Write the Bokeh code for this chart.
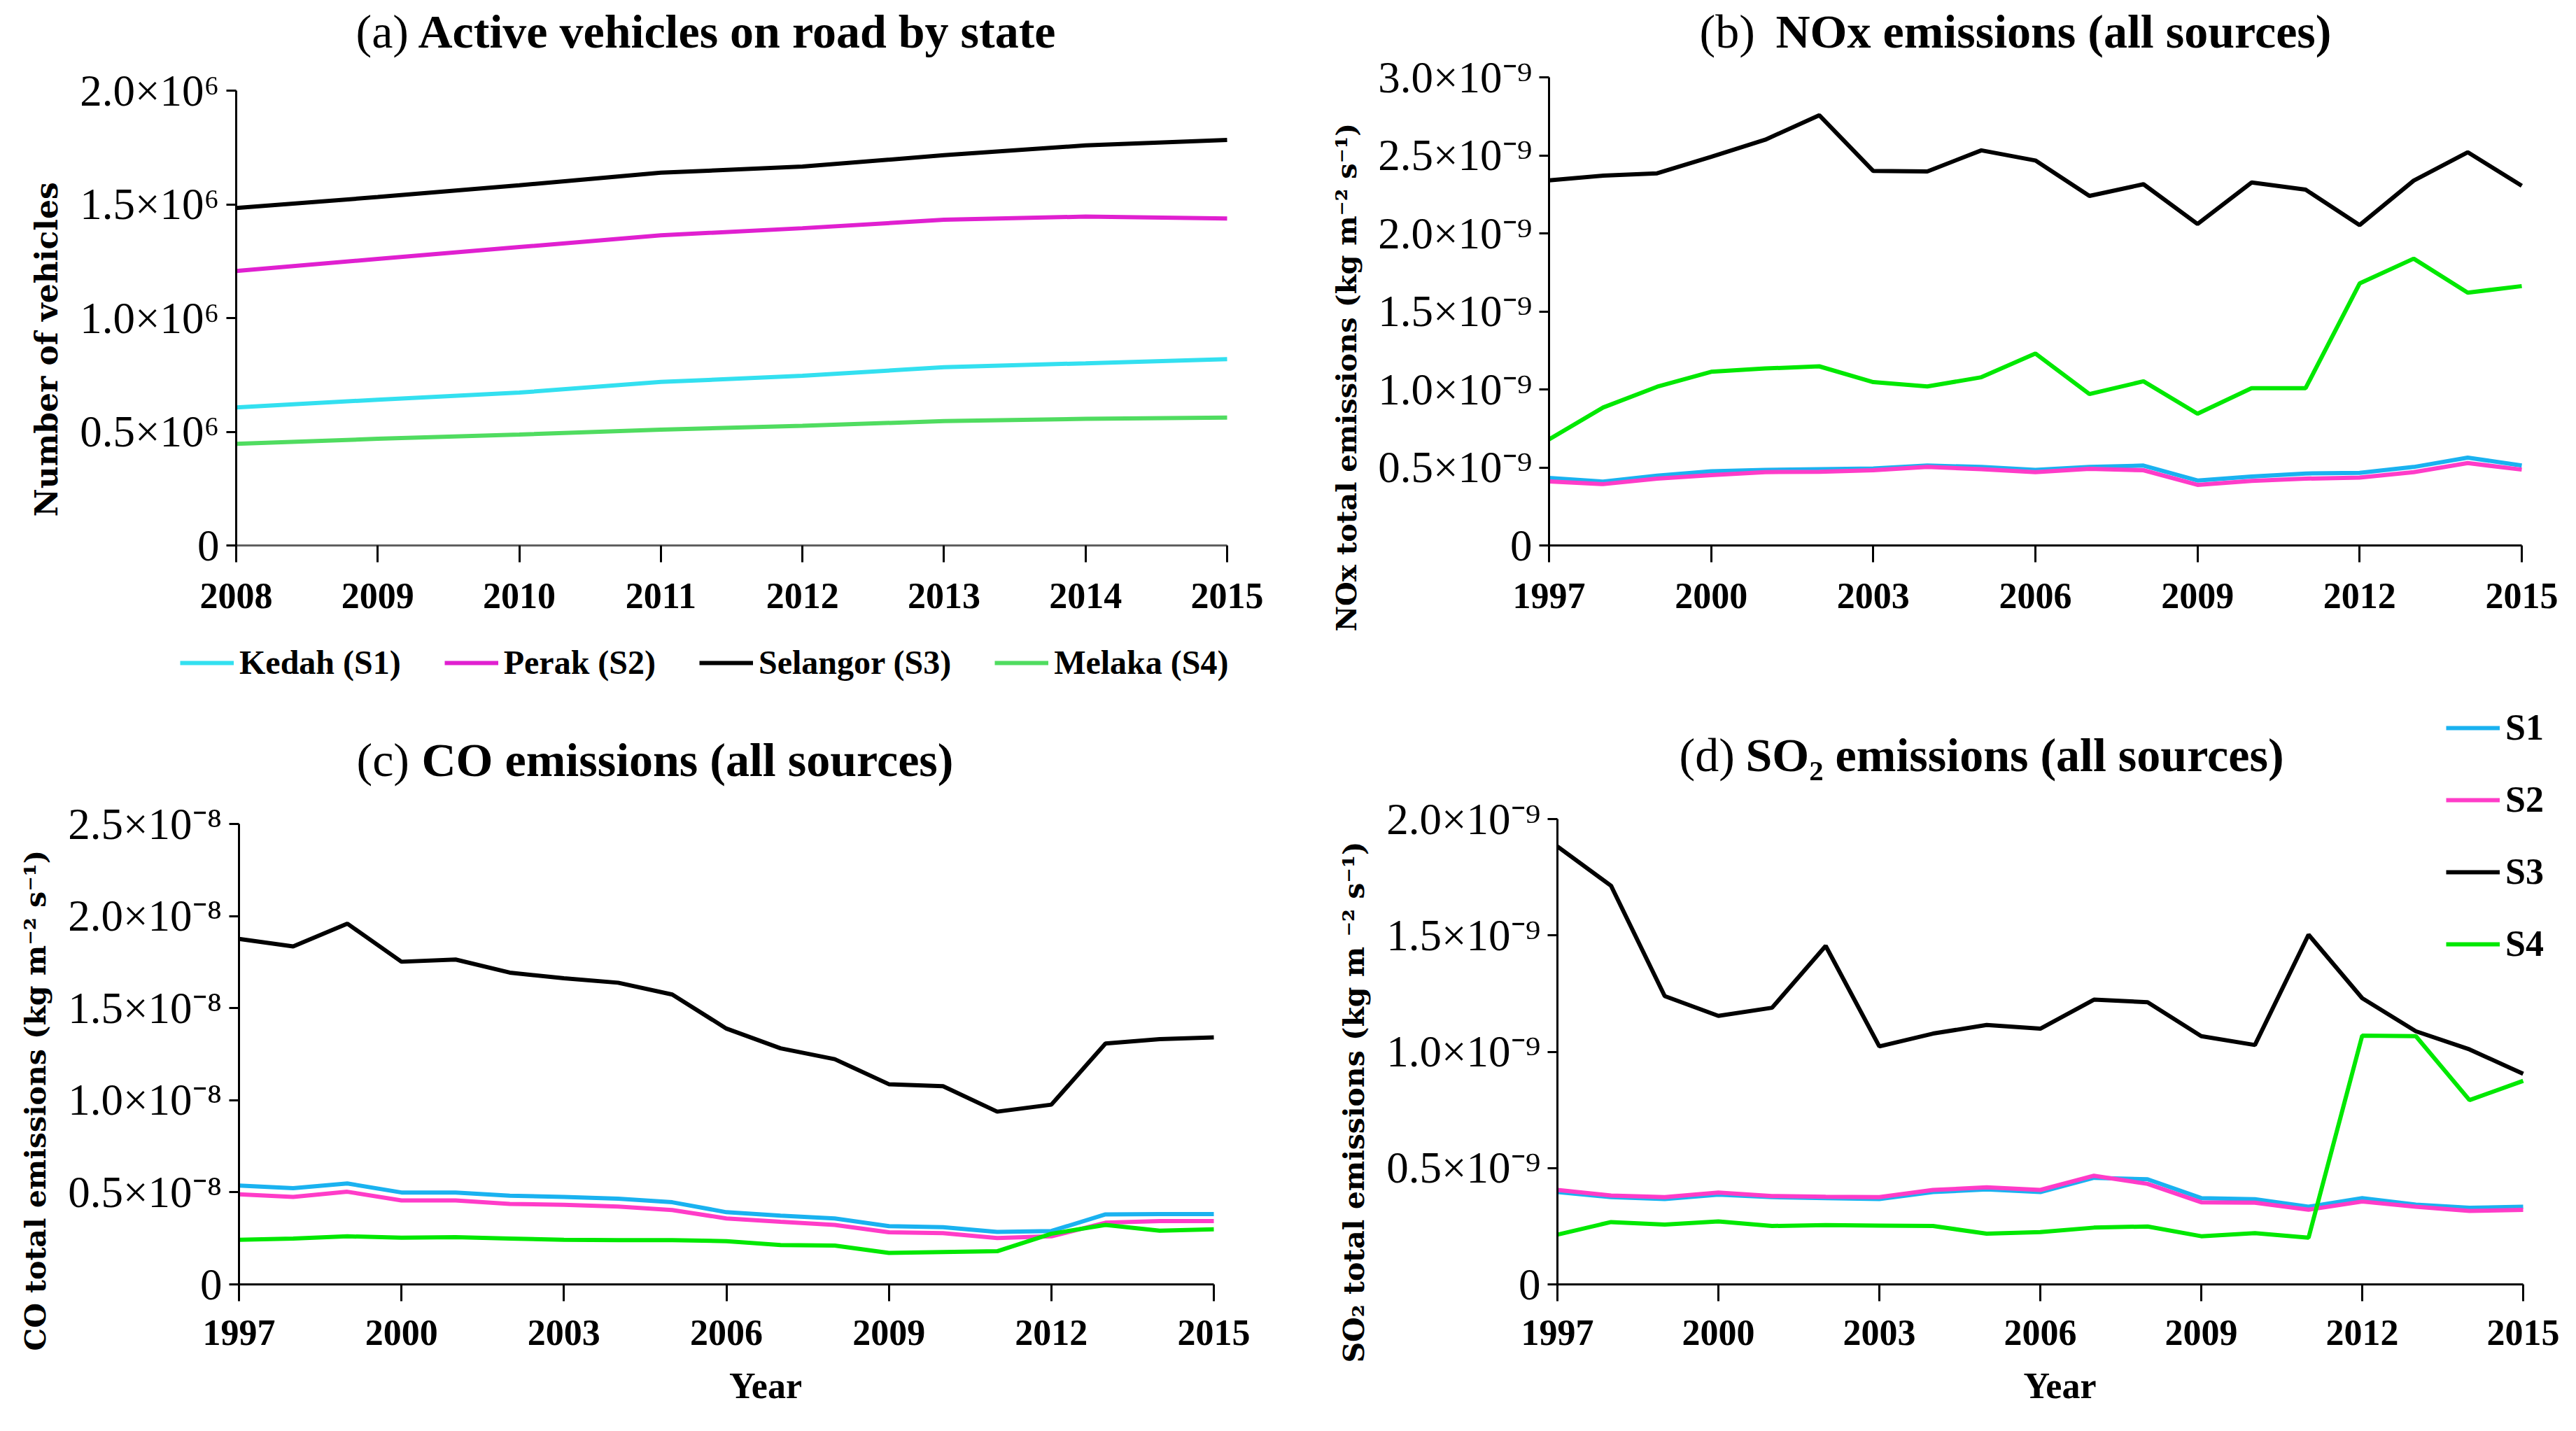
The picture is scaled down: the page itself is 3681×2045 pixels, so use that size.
import math
from bokeh.plotting import figure
from bokeh.layouts import column, row
from bokeh.models import (Range1d, FixedTicker, CustomJSTickFormatter, Label,
                          Legend, LegendItem, Title)
from bokeh.embed import file_html
from bokeh.resources import INLINE

# ---------------- data ----------------
years_a = [2008, 2009, 2010, 2011, 2012, 2013, 2014, 2015]
# vehicles, in units of 10^6
kedah = [0.607, 0.641, 0.672, 0.719, 0.746, 0.784, 0.801, 0.819]
perak = [1.207, 1.260, 1.312, 1.364, 1.395, 1.432, 1.446, 1.438]
selangor = [1.484, 1.532, 1.584, 1.639, 1.666, 1.716, 1.759, 1.783]
melaka = [0.447, 0.469, 0.488, 0.509, 0.526, 0.547, 0.557, 0.562]

years = list(range(1997, 2016))
# NOx, units of 10^-9 kg m-2 s-1
nox_s1 = [0.433, 0.409, 0.447, 0.475, 0.484, 0.489, 0.493, 0.512, 0.503, 0.484,
          0.503, 0.512, 0.416, 0.442, 0.461, 0.465, 0.503, 0.563, 0.512]
nox_s2 = [0.410, 0.393, 0.428, 0.451, 0.470, 0.472, 0.482, 0.503, 0.489, 0.470,
          0.491, 0.482, 0.388, 0.414, 0.428, 0.435, 0.470, 0.528, 0.486]
nox_s3 = [2.340, 2.370, 2.385, 2.490, 2.600, 2.757, 2.400, 2.397, 2.532, 2.467,
          2.240, 2.315, 2.060, 2.326, 2.280, 2.053, 2.338, 2.520, 2.305]
nox_s4 = [0.680, 0.884, 1.017, 1.113, 1.134, 1.148, 1.047, 1.019, 1.078, 1.230,
          0.970, 1.052, 0.844, 1.008, 1.008, 1.679, 1.838, 1.620, 1.662]
# CO, units of 10^-8 kg m-2 s-1
co_s1 = [0.537, 0.522, 0.548, 0.499, 0.499, 0.482, 0.475, 0.465, 0.446, 0.392,
         0.373, 0.358, 0.316, 0.311, 0.285, 0.290, 0.380, 0.382, 0.382]
co_s2 = [0.489, 0.475, 0.503, 0.456, 0.456, 0.437, 0.432, 0.423, 0.404, 0.358,
         0.340, 0.323, 0.283, 0.278, 0.252, 0.261, 0.335, 0.344, 0.344]
co_s3 = [1.876, 1.835, 1.959, 1.752, 1.764, 1.693, 1.662, 1.638, 1.574, 1.389,
         1.282, 1.223, 1.087, 1.076, 0.938, 0.976, 1.308, 1.332, 1.341]
co_s4 = [0.242, 0.249, 0.261, 0.254, 0.256, 0.249, 0.242, 0.240, 0.240, 0.235,
         0.214, 0.211, 0.171, 0.176, 0.180, 0.275, 0.323, 0.292, 0.299]
# SO2, units of 10^-9 kg m-2 s-1
so2_s1 = [0.397, 0.375, 0.367, 0.386, 0.375, 0.371, 0.367, 0.397, 0.408, 0.397,
          0.458, 0.452, 0.371, 0.366, 0.334, 0.371, 0.343, 0.329, 0.334]
so2_s2 = [0.406, 0.382, 0.375, 0.395, 0.380, 0.377, 0.375, 0.406, 0.417, 0.406,
          0.467, 0.432, 0.353, 0.351, 0.321, 0.356, 0.334, 0.316, 0.320]
so2_s3 = [1.882, 1.713, 1.239, 1.154, 1.189, 1.455, 1.023, 1.078, 1.115, 1.099,
          1.224, 1.213, 1.067, 1.029, 1.503, 1.230, 1.088, 1.010, 0.905]
so2_s4 = [0.214, 0.268, 0.257, 0.271, 0.251, 0.255, 0.253, 0.251, 0.218, 0.225,
          0.244, 0.249, 0.207, 0.220, 0.201, 1.069, 1.067, 0.792, 0.875]

names_a = ["Kedah (S1)", "Perak (S2)", "Selangor (S3)", "Melaka (S4)"]
names_s = ["S1", "S2", "S3", "S4"]
colors_a = ["#33E0F0", "#E020D0", "#000000", "#50DC60"]
colors_s = ["#1AB2F0", "#FF3CC8", "#000000", "#00E800"]
xticks_a = years_a
xticks_s = [1997, 2000, 2003, 2006, 2009, 2012, 2015]

SERIF = "Liberation Serif"
WIDE = "DejaVu Serif"
PAD = 4
LW = 6


def make_fig(fx, fy, fw, fh, axl, axr, axt, axb, xr, yr, xticks, yticks, suffix):
    """fx..fh: figure box on page; axl..axb: where the axes' ends sit on page."""
    x0, x1 = xr
    y0, y1 = yr
    frame_right = fx + fw - PAD
    frame_top = fy + PAD
    x_end = x0 + (x1 - x0) * (frame_right - axl) / (axr - axl)
    y_end = y0 + (y1 - y0) * (axb - frame_top) / (axb - axt)
    p = figure(width=fw, height=fh, output_backend="svg", toolbar_location=None,
               x_range=Range1d(x0, x_end), y_range=Range1d(y0, y_end),
               min_border_left=axl - fx, min_border_right=PAD,
               min_border_top=PAD, min_border_bottom=fy + fh - axb)
    p.outline_line_color = None
    p.xgrid.grid_line_color = None
    p.ygrid.grid_line_color = None
    p.xaxis.bounds = (x0, x1)
    p.yaxis.bounds = (y0, y1)
    p.xaxis.ticker = FixedTicker(ticks=xticks)
    p.yaxis.ticker = FixedTicker(ticks=yticks)
    p.yaxis.formatter = CustomJSTickFormatter(
        code="return tick == 0 ? '0' : tick.toFixed(1) + '×10%s';" % suffix)
    for ax in (p.xaxis, p.yaxis):
        ax.axis_line_color = "black"
        ax.axis_line_width = 3
        ax.major_tick_line_width = 3
        ax.major_tick_line_color = "black"
        ax.minor_tick_line_color = None
        ax.major_tick_in = 0
        ax.major_label_text_color = "black"
        ax.major_label_text_font = SERIF
    p.xaxis.major_tick_out = 24
    p.yaxis.major_tick_out = 14
    p.xaxis.major_label_text_font_size = "52px"
    p.xaxis.major_label_text_font_style = "bold"
    p.xaxis.major_label_standoff = 30
    p.yaxis.major_label_text_font_size = "63px"
    p.yaxis.major_label_standoff = 10
    p._geom = (fx, fy, fh, axl, axb)
    return p


def add_title(p, small, bold, px_small, px_bold, py):
    fx, fy, fh, axl, axb = p._geom
    for txt, px, style in ((small, px_small, "normal"), (bold, px_bold, "bold")):
        p.add_layout(Label(x=px - axl, y=axb - py, x_units="screen", y_units="screen",
                           text=txt, text_font=SERIF, text_font_size="68px",
                           text_font_style=style, text_color="black",
                           text_align="left", text_baseline="middle"))


def add_ylabel(p, text, py_bottom, size_px, standoff=40):
    """vertical side title; its start (lower end) sits at py_bottom on the page."""
    fx, fy, fh, axl, axb = p._geom
    t = Title(text=text, align="left", offset=axb - py_bottom,
              text_font=WIDE, text_font_size="%dpx" % size_px,
              text_font_style="bold", text_color="black", standoff=standoff)
    p.add_layout(t, "left")


TOP_AXB = 787
BOT_AXB = 1843

# ---- (a) ----
pa = make_fig(8, 8, 1850, 917, 345, 1761, 137, TOP_AXB, (2008, 2015), (0, 2.0),
              xticks_a, [0, 0.5, 1.0, 1.5, 2.0], "⁶")
pa.xaxis.axis_line_color = "#606060"
for ys, c in zip([kedah, perak, selangor, melaka], colors_a):
    pa.line(years_a, ys, line_color=c, line_width=LW)
add_title(pa, "(a)", "Active vehicles on road by state", 516, 605, 52)
add_ylabel(pa, "Number of vehicles", 746, 44)

# ---- (b) ----
pb = make_fig(1858, 8, 1815, 917, 2221, 3611, 118, TOP_AXB, (1997, 2015), (0, 3.0),
              xticks_s, [0, 0.5, 1.0, 1.5, 2.0, 2.5, 3.0], "⁻⁹")
for ys, c in zip([nox_s1, nox_s2, nox_s3, nox_s4], colors_s):
    pb.line(years, ys, line_color=c, line_width=LW)
add_title(pb, "(b)", "NOx emissions (all sources)", 2436, 2545, 52)
add_ylabel(pb, "NOx  total emissions (kg m⁻² s⁻¹)", 910, 40)

# ---- legend strip for (a) ----
pl = figure(width=3665, height=65, output_backend="svg", toolbar_location=None,
            x_range=Range1d(0, 1), y_range=Range1d(0, 1),
            x_axis_location=None, y_axis_location=None,
            min_border_left=0, min_border_right=0, min_border_top=0, min_border_bottom=0)
pl.outline_line_color = None
pl.xgrid.grid_line_color = None
pl.ygrid.grid_line_color = None
# legend keys only: one undefined (NaN) point each, nothing is drawn in the strip
keys = [pl.line(x=[float("nan")], y=[float("nan")], line_color=c, line_width=LW)
        for c in colors_a]
leg_a = Legend(items=[LegendItem(label=n, renderers=[r]) for n, r in zip(names_a, keys)],
               orientation="horizontal", location=(265 - 8, 990 - 982),
               label_text_font=SERIF, label_text_font_size="48px",
               label_text_font_style="bold", label_text_color="black",
               glyph_width=77, glyph_height=50, label_height=50, label_standoff=8,
               spacing=62, padding=0, margin=0, border_line_color=None,
               background_fill_alpha=0)
pl.add_layout(leg_a, "center")

# ---- (c) ----
pc = make_fig(8, 990, 1850, 1047, 349, 1742, 1185, BOT_AXB, (1997, 2015), (0, 2.5),
              xticks_s, [0, 0.5, 1.0, 1.5, 2.0, 2.5], "⁻⁸")
for ys, c in zip([co_s1, co_s2, co_s3, co_s4], colors_s):
    pc.line(years, ys, line_color=c, line_width=LW)
add_title(pc, "(c)", "CO emissions (all sources)", 517, 610, 1093)
add_ylabel(pc, "CO total emissions (kg m⁻² s⁻¹)", 1938, 41)

# ---- (d) ----
pd_ = make_fig(1858, 990, 1815, 1047, 2233, 3613, 1178, BOT_AXB, (1997, 2015), (0, 2.0),
               xticks_s, [0, 0.5, 1.0, 1.5, 2.0], "⁻⁹")
rd = [pd_.line(years, ys, line_color=c, line_width=LW)
      for ys, c in zip([so2_s1, so2_s2, so2_s3, so2_s4], colors_s)]
add_title(pd_, "(d)", "SO₂ emissions (all sources)", 2407, 2502, 1086)
add_ylabel(pd_, "SO₂ total emissions (kg m ⁻² s⁻¹)", 1955, 41)
leg_d = Legend(items=[LegendItem(label=n, renderers=[r]) for n, r in zip(names_s, rd)],
               orientation="vertical", location=(3503 - 2233, BOT_AXB - 1386),
               label_text_font=SERIF, label_text_font_size="52px",
               label_text_font_style="bold", label_text_color="black",
               glyph_width=77, glyph_height=50, label_height=50, label_standoff=8,
               spacing=44, padding=0, margin=0, border_line_color=None,
               background_fill_alpha=0)
pd_.add_layout(leg_d, "center")

for p in (pc, pd_):
    p.xaxis.major_label_standoff = 27
    p.xaxis.axis_label = "Year"
    p.xaxis.axis_label_text_font = SERIF
    p.xaxis.axis_label_text_font_size = "52px"
    p.xaxis.axis_label_text_font_style = "bold"
    p.xaxis.axis_label_text_color = "black"
    p.xaxis.axis_label_standoff = 27

layout = column(row(pa, pb), pl, row(pc, pd_))
open("out.html", "w").write(file_html(layout, INLINE))
